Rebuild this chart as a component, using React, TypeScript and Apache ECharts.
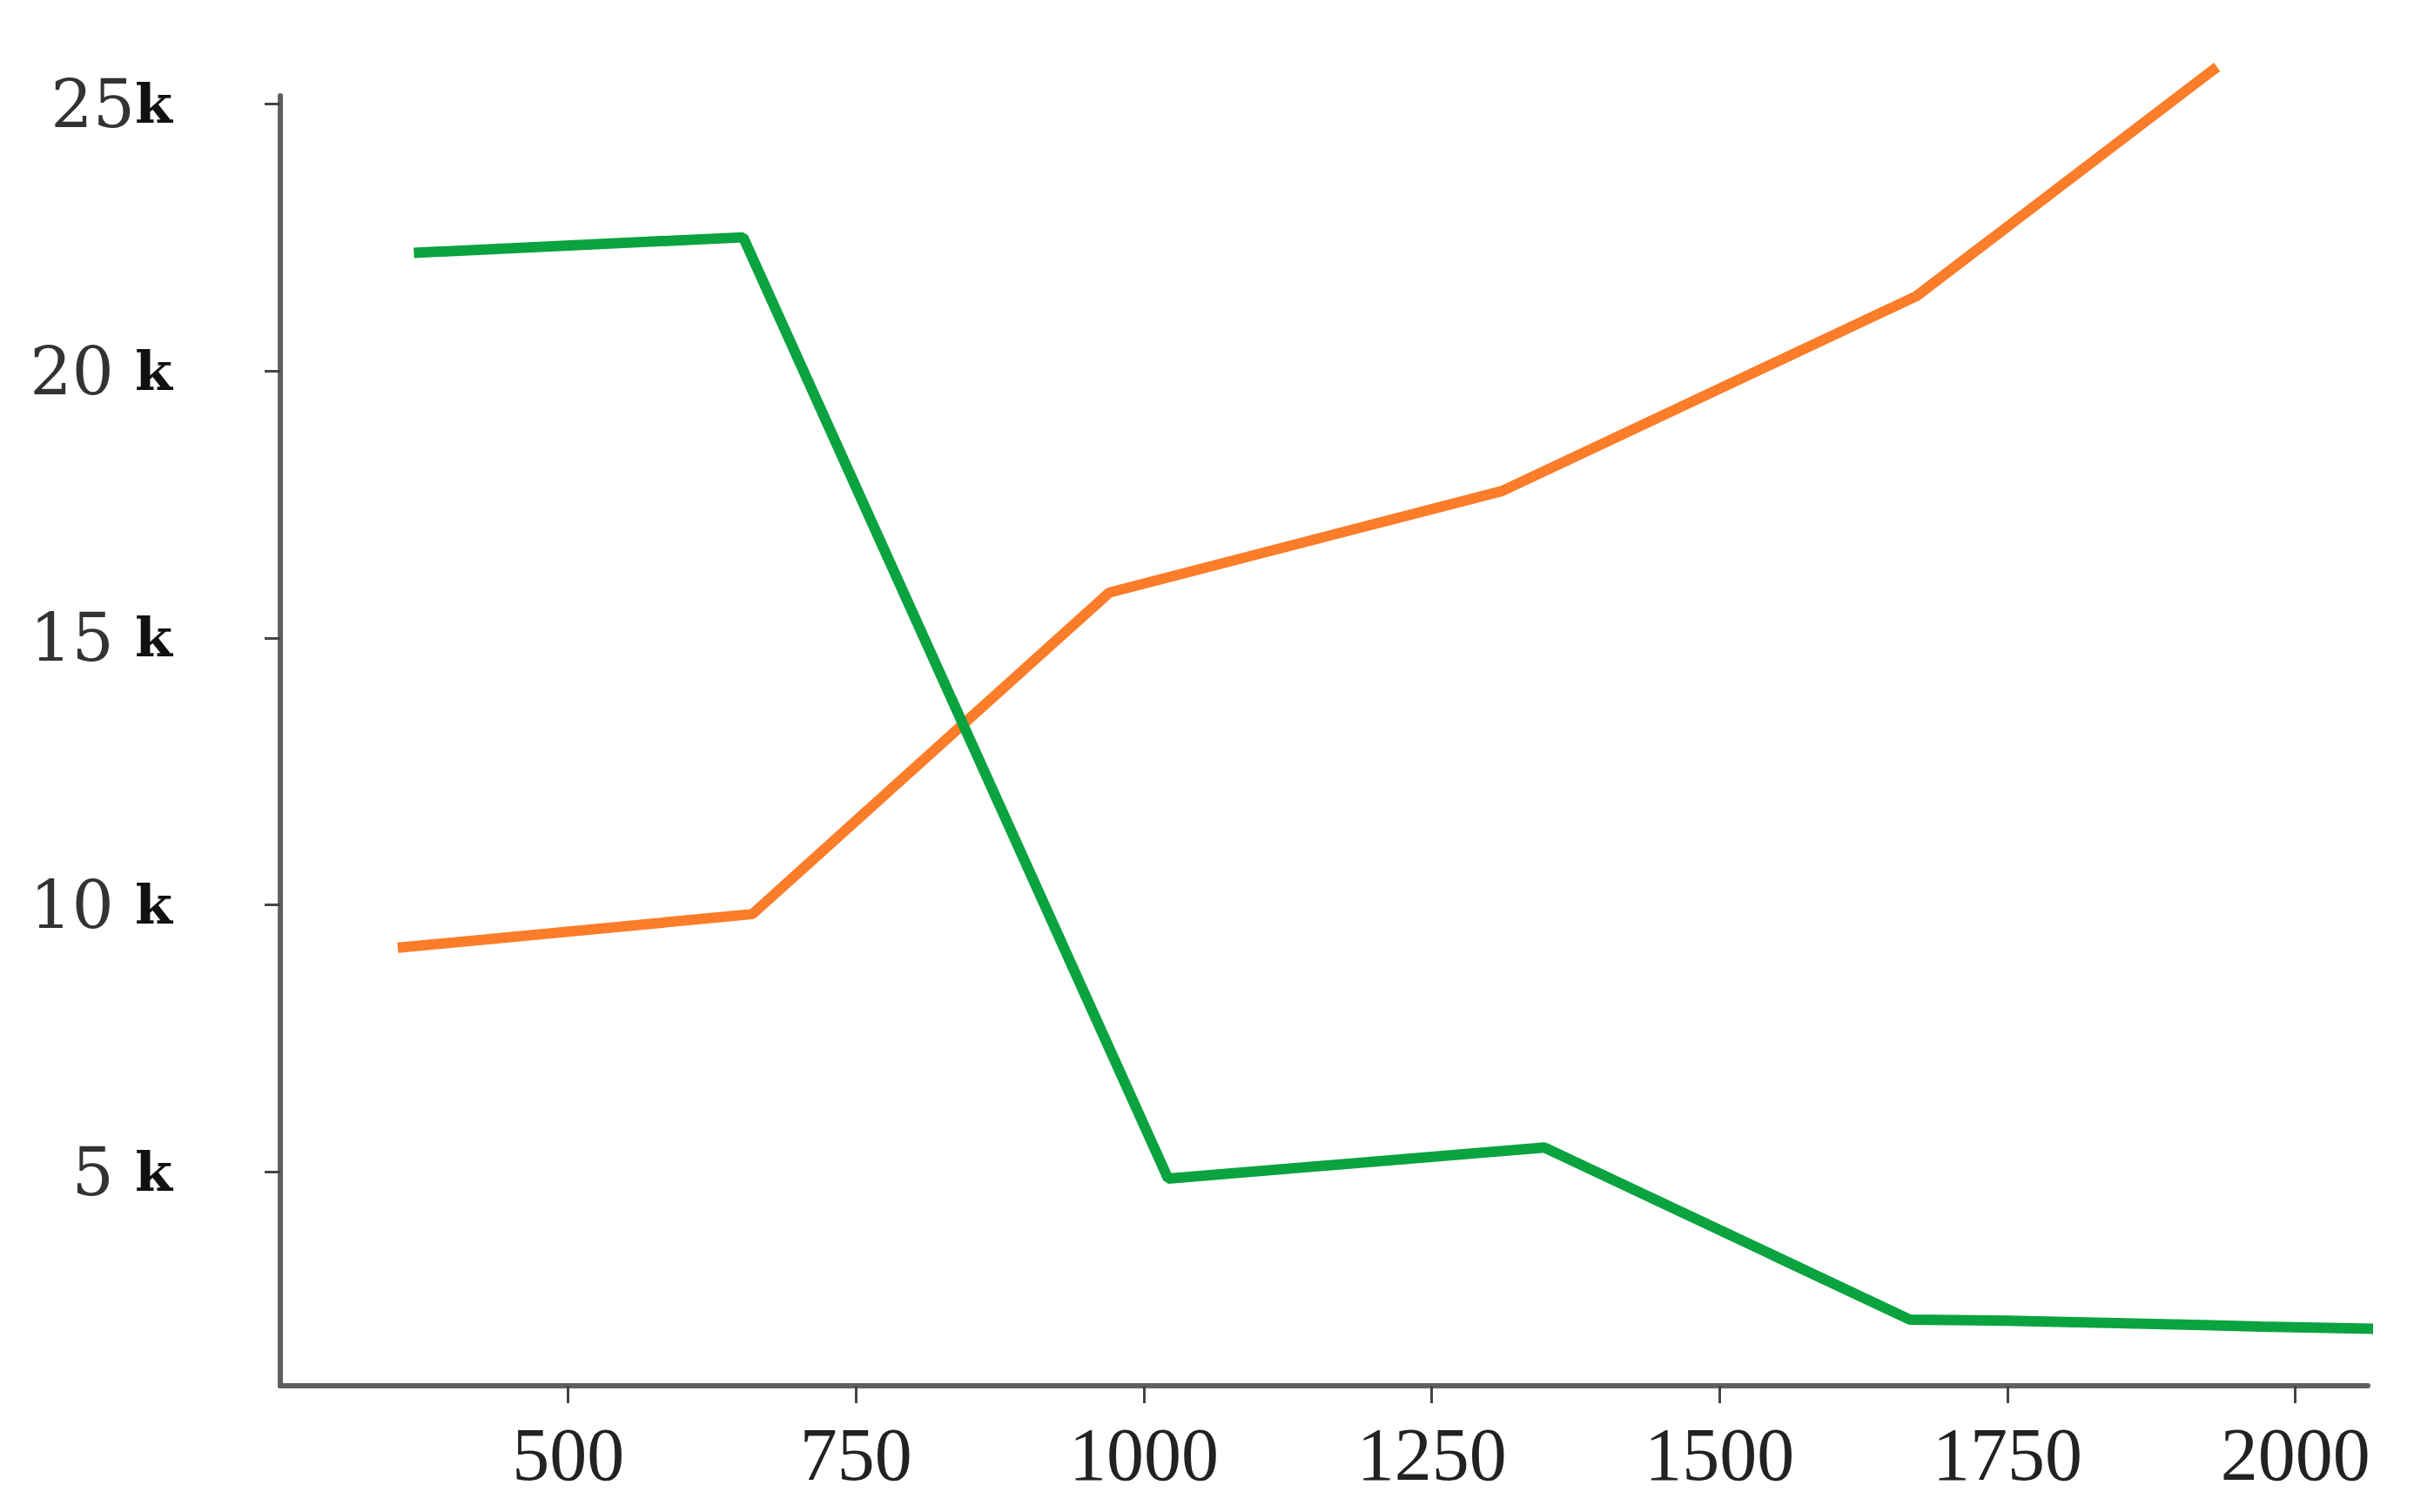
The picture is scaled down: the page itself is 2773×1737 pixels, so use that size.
import React, { useEffect, useRef } from "react";
import * as echarts from "echarts";

const greenX = [366, 652, 1021, 1348, 1665, 1750, 1970, 2085];
const greenY = [22210, 22500, 4880, 5460, 2240, 2220, 2110, 2060];
const orangeX = [352, 660, 970, 1311, 1671, 1932];
const orangeY = [9200, 9830, 15850, 17750, 21400, 25690];
const yTicks = [5000, 10000, 15000, 20000, 25000];
const xTicks = [500, 750, 1000, 1250, 1500, 1750, 2000];

const pairs = (xs: number[], ys: number[]) => xs.map((x, i) => [x, ys[i]]);

export default function App() {
  const ref = useRef<HTMLDivElement>(null);
  useEffect(() => {
    document.body.style.margin = "0";
    const chart = echarts.init(ref.current!, null, { renderer: "svg" });
    chart.setOption({
      animation: false,
      backgroundColor: "#ffffff",
      grid: { left: 322, right: 53, top: 110, bottom: 145, containLabel: false },
      xAxis: {
        type: "value",
        min: 250,
        max: 2063,
        splitLine: { show: false },
        axisLine: { show: true, lineStyle: { color: "#606060", width: 6 } },
        axisTick: { show: true, customValues: xTicks, length: 20, lineStyle: { color: "#444", width: 3 } },
        axisLabel: {
          customValues: xTicks,
          margin: 36,
          formatter: (v: number) => String(v),
          fontFamily: "Liberation Serif",
          fontSize: 86,
          color: "#222",
        },
      },
      yAxis: {
        type: "value",
        min: 1000,
        max: 25150,
        splitLine: { show: false },
        axisLine: { show: true, lineStyle: { color: "#606060", width: 6 } },
        axisTick: { show: true, customValues: yTicks, length: 18, lineStyle: { color: "#444", width: 3 } },
        axisLabel: {
          customValues: yTicks,
          margin: 124,
          formatter: (v: number) => {
            const n = String(Math.round(v / 1000));
            return n === "25" ? `{n|${n}}{k|k}` : `{n|${n}} {k|k}`;
          },
          rich: {
            n: { fontFamily: "DejaVu Serif", fontSize: 76, color: "#333" },
            k: { fontFamily: "DejaVu Serif", fontWeight: "bold", fontSize: 62, color: "#111" },
          },
          fontFamily: "DejaVu Serif",
          fontSize: 76,
        },
      },
      series: [
        {
          type: "line",
          data: pairs(orangeX, orangeY),
          showSymbol: false,
          clip: false,
          lineStyle: { color: "#fb7d2a", width: 12 },
        },
        {
          type: "line",
          data: pairs(greenX, greenY),
          showSymbol: false,
          clip: false,
          lineStyle: { color: "#0aa33f", width: 12 },
        },
      ],
    });
    return () => chart.dispose();
  }, []);
  return <div ref={ref} style={{ position: "fixed", left: 0, top: 0, width: 2773, height: 1737 }} />;
}
